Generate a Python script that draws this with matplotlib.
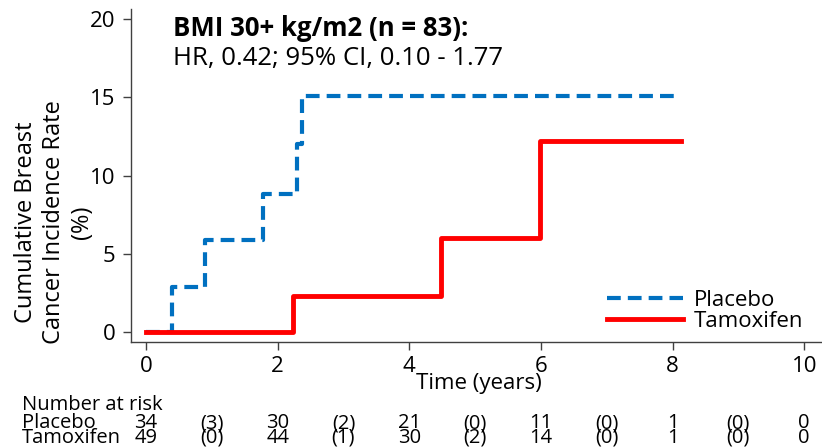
import numpy as np
import matplotlib
matplotlib.use("Agg")
import matplotlib.pyplot as plt

plt.rcParams['font.family'] = ['Open Sans', 'DejaVu Sans']

# step curves (years, cumulative incidence %)
placebo_t = [0, 0.39, 0.90, 1.78, 2.29, 2.37, 8.07]
placebo_y = [0, 2.9, 5.9, 8.8, 12.0, 15.1, 15.1]
tamox_t = [0, 2.23, 4.48, 5.98, 8.13]
tamox_y = [0, 2.3, 6.0, 12.2, 12.2]

# number at risk table (value at each integer year)
risk_years = [0, 1, 2, 3, 4, 5, 6, 7, 8, 9, 10]
risk_placebo = ['34', '(3)', '30', '(2)', '21', '(0)', '11', '(0)', '1', '(0)', '0']
risk_tamox = ['49', '(0)', '44', '(1)', '30', '(2)', '14', '(0)', '1', '(0)', '0']

xticks = [0, 2, 4, 6, 8, 10]
yticks = [0, 5, 10, 15, 20]

fs = 16
fs_risk = 14.5

fig = plt.figure(figsize=(8.22, 4.47), dpi=100)
ax = fig.add_axes([131 / 822, 1 - 342 / 447, 691 / 822, 333 / 447])

ax.step(placebo_t, placebo_y, where='post', color='#0070C0', lw=3,
        linestyle=(0, (3.3, 1.7)), label='Placebo')
ax.step(tamox_t, tamox_y, where='post', color='#FF0000', lw=3.5,
        label='Tamoxifen')

ax.set_xlim(-0.228, 10.27)
ax.set_ylim(-0.64, 20.64)
ax.set_xticks(xticks)
ax.set_yticks(yticks)
ax.tick_params(labelsize=fs, length=6, width=1, color='#404040')
ax.tick_params(axis='x', pad=4)
ax.tick_params(axis='y', pad=5)
for s in ['top', 'right']:
    ax.spines[s].set_visible(False)
for s in ['left', 'bottom']:
    ax.spines[s].set_color('#404040')
    ax.spines[s].set_linewidth(1)

fig.text(173 / 822, 1 - 28 / 447, 'BMI 30+ kg/m2 (n = 83):',
         fontsize=18.5, fontweight='bold', va='center')
fig.text(173 / 822, 1 - 58 / 447, 'HR, 0.42; 95% CI, 0.10 - 1.77',
         fontsize=18.5, va='center')

fig.text(54 / 822, 1 - 222 / 447,
         'Cumulative Breast\nCancer Incidence Rate\n(%)',
         rotation=90, ha='center', va='center', fontsize=17,
         linespacing=1.22)

ax.legend(loc='upper left', bbox_to_anchor=(607 / 822, 1 - 290 / 447),
          bbox_transform=fig.transFigure, frameon=False,
          fontsize=fs, handlelength=3.4, handletextpad=0.5,
          labelspacing=0.0, borderaxespad=0, borderpad=0)

# x label and number at risk table
trans = matplotlib.transforms.blended_transform_factory(ax.transData, fig.transFigure)
fig.text(479 / 822, 1 - 384 / 447, 'Time (years)', ha='center', va='center',
         fontsize=fs)
fig.text(22 / 822, 1 - 410 / 447, 'Number at risk', ha='left', va='baseline',
         fontsize=fs_risk)
fig.text(22 / 822, 1 - 428 / 447, 'Placebo', ha='left', va='baseline', fontsize=fs_risk)
fig.text(22 / 822, 1 - 443 / 447, 'Tamoxifen', ha='left', va='baseline', fontsize=fs_risk)
for yr, a, b in zip(risk_years, risk_placebo, risk_tamox):
    ax.text(yr, 1 - 428 / 447, a, transform=trans, ha='center', va='baseline',
            fontsize=fs_risk)
    ax.text(yr, 1 - 443 / 447, b, transform=trans, ha='center', va='baseline',
            fontsize=fs_risk)

fig.savefig('out.png', dpi=100)
